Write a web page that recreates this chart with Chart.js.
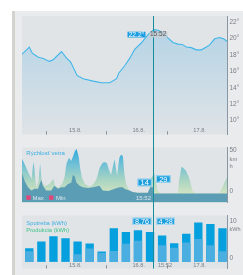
<!DOCTYPE html>
<html><head><meta charset="utf-8">
<script src="https://cdn.jsdelivr.net/npm/chart.js@4/dist/chart.umd.min.js"></script>
<style>
html,body{margin:0;padding:0;background:#fff;width:243px;height:275px;overflow:hidden;position:relative}
#strip{position:absolute;left:12px;top:11px;width:3px;height:264px;background:#d5d3d0}
#panel{position:absolute;left:15px;top:11px;width:228px;height:264px;background:#e9ebed}
canvas{position:absolute;left:0}
#c1{top:0}#c2{top:141px}#c3{top:209px}
</style></head><body>
<div id="strip"></div><div id="panel"></div>
<canvas id="c1" width="243" height="141" style="width:243px;height:141px"></canvas>
<canvas id="c2" width="243" height="68" style="width:243px;height:68px"></canvas>
<canvas id="c3" width="243" height="66" style="width:243px;height:66px"></canvas>
<script>
// ---- data (x in hours from chart start) ----
const xMin = 0, xMax = 81.5;
const cursorHour = 52;
const cursorLabel = "15:52";
const dayStarts = [9.5, 33.3, 57.5];
const dayLabelHours = [21.2, 46.4, 70.6];
const dayLabels = ["15.8.", "16.8.", "17.8."];

const tempHours = [0, 2.9, 4.1, 6.5, 8.5, 10.8, 12.4, 15.7, 17.7, 19.3, 21.9, 24.3, 28.3, 31.6, 34.9, 37.6, 38.5, 40.9, 42.8, 44.8, 47.5, 50.1, 52.4, 54.1, 56.1, 58.0, 60.0, 62.0, 63.7, 65.3, 67.3, 69.3, 71.3, 73.3, 74.6, 76.6, 78.5, 80.1, 81.5];
const tempValues = [18.07, 18.94, 18.2, 17.7, 17.56, 17.2, 17.4, 18.4, 17.6, 17.15, 15.5, 15.1, 14.8, 14.6, 14.6, 15.1, 15.8, 16.7, 17.56, 18.67, 19.46, 20.45, 21.05, 20.97, 20.65, 20.06, 19.5, 19.3, 19.26, 18.94, 18.87, 18.6, 18.6, 18.94, 19.2, 19.94, 20.1, 19.94, 19.65];
const tempTicks = [10, 12, 14, 16, 18, 20, 22];
const tempLabel = "22.2°";

const windMaxHours = [0, 1.1, 2.5, 3.8, 4.5, 5.0, 5.6, 6.5, 7.2, 7.9, 9.1, 11.1, 12.4, 13.2, 14.4, 16.0, 16.9, 17.7, 18.7, 19.5, 20.3, 21.0, 21.7, 22.5, 23.2, 23.8, 25.0, 27.0, 28.5, 29.6, 30.9, 32.1, 33.0, 33.8, 34.5, 35.4, 36.1, 36.8, 37.4, 37.8, 38.7, 39.4, 40.1, 40.7, 41.4, 42.7, 44, 46, 50, 51, 51.5, 52.6, 53.3, 54, 55.3, 62, 62.5, 63.4, 63.9, 65.2, 66.5, 67.8, 69.1, 78.3, 80, 81.5];
const windMax = [43, 36, 26, 18, 39, 30, 8, 14, 37, 14, 9, 12, 18, 9, 7, 12, 20, 37, 44, 40, 46, 52, 55, 46, 30, 20, 12, 8, 12, 18, 32, 38, 39, 37, 30, 23, 33, 42, 30, 22, 44, 48, 46, 24, 11, 4, 1.5, 1, 1, 10, 20, 25, 12, 3, 0, 1, 17, 33, 32, 28, 19, 3, 0, 0, 10, 20];
const windMinHours = [0, 1.1, 2.4, 3.7, 5.0, 6.4, 7.0, 7.7, 8.3, 9.6, 11.6, 12.9, 14.3, 15.6, 16.9, 18.2, 19.6, 20.2, 21.0, 21.6, 22.9, 24.2, 26.2, 28.2, 30.8, 32.1, 34.4, 36.8, 38.7, 40.1, 40.7, 42.7, 44, 46, 50, 51, 52, 52.1, 81.5];
const windMin = [25, 15, 7.6, 3.8, 5.8, 5.8, 11.5, 17, 9.6, 3.8, 3.8, 9.6, 5.8, 7.7, 7.7, 11.5, 13.5, 23, 21, 13.5, 9.6, 7.7, 6.7, 7.7, 9.6, 3.8, 3, 5.8, 7.7, 7.7, 5.8, 3.8, 1.9, 1, 1, 7.7, 8, 0, 0];
const windTicks = [0, 50];
const windLabelMin = "14", windLabelMax = "29";

const barHours = [2.9, 7.7, 12.5, 17.3, 22.1, 26.9, 31.7, 36.5, 41.3, 46.1, 50.9, 55.7, 60.5, 65.3, 70.1, 74.9, 79.7];
const spotreba = [3.66, 5.5, 6.9, 6.4, 5.5, 4.95, 2.76, 9.1, 8.1, 8.6, 8.1, 7.15, 5.0, 7.6, 10.7, 10.3, 9.1];
const produkcia = [2.83, 0, 0, 0, 2.0, 3.56, 2.34, 2.9, 4.9, 5.7, 0, 4.46, 3.8, 5.2, 6.2, 4.46, 2.83];
const barTicks = [0, 10];
const barLabelLeft = "8,76", barLabelRight = "4,28";

// ---- helpers ----
const FONT = '"Liberation Sans", Arial, sans-serif';
Chart.defaults.font.family = FONT;
const pts = (xs, ys) => xs.map((x, i) => ({x: x, y: ys[i]}));
const CURSOR = '#178c9b';

function yScale(min, max, ticks, fmt, offset) {
  return {
    position: 'right', min: min, max: max,
    grid: {display: false, drawTicks: false},
    border: {display: true, color: '#8996a4', width: 1},
    ticks: {color: '#7b8088', font: {size: 6.5, family: FONT}, padding: 2.5, labelOffset: offset, autoSkip: false, callback: fmt},
    afterBuildTicks: s => { s.ticks = ticks.map(v => ({value: v})); },
    afterFit: s => { s.width = 16; }
  };
}
const xScale = () => ({type: 'linear', min: xMin, max: xMax, display: false, offset: false, bounds: 'ticks'});

function box(ctx, text, x0, y0, w, h, fill, stroke, color, size) {
  ctx.fillStyle = fill; ctx.fillRect(x0, y0, w, h);
  if (stroke) { ctx.strokeStyle = stroke; ctx.lineWidth = 1; ctx.strokeRect(x0 + 0.5, y0 + 0.5, w - 1, h - 1); }
  ctx.fillStyle = color; ctx.font = size + 'px ' + FONT; ctx.textAlign = 'center'; ctx.textBaseline = 'middle';
  ctx.fillText(text, x0 + w / 2, y0 + h / 2 + 0.5);
}
const plotBg = {id: 'plotBg', beforeDraw(chart) {
  const {ctx, chartArea: a} = chart; ctx.save(); ctx.fillStyle = '#e1e4e7';
  ctx.fillRect(a.left, a.top, a.right - a.left, a.bottom - a.top); ctx.restore();
}};
function dayAxis(chart, labelDy) {
  const {ctx, chartArea: a, scales: {x}} = chart;
  ctx.save(); ctx.strokeStyle = '#8a95a0'; ctx.lineWidth = 1;
  dayStarts.forEach(h => { const px = Math.round(x.getPixelForValue(h)) + 0.5; ctx.beginPath(); ctx.moveTo(px, a.bottom - 3.5); ctx.lineTo(px, a.bottom); ctx.stroke(); });
  ctx.fillStyle = '#7b8088'; ctx.font = '5.7px ' + FONT; ctx.textAlign = 'center'; ctx.textBaseline = 'middle';
  dayLabels.forEach((t, i) => ctx.fillText(t, x.getPixelForValue(dayLabelHours[i]), a.bottom - labelDy));
  ctx.restore();
}
function cursorLine(chart, y0, y1) {
  const {ctx, scales: {x}} = chart; const cx = Math.round(x.getPixelForValue(cursorHour)) + 0.5;
  ctx.save(); ctx.strokeStyle = CURSOR; ctx.lineWidth = 1; ctx.beginPath(); ctx.moveTo(cx, y0); ctx.lineTo(cx, y1); ctx.stroke(); ctx.restore();
  return cx;
}
const base = (padTop, padBottom) => ({
  responsive: false, animation: false, devicePixelRatio: 1,
  layout: {padding: {left: 22, right: 0, top: padTop, bottom: padBottom}},
  plugins: {legend: {display: false}, tooltip: {enabled: false}}
});

// ---- chart 1: temperature ----
new Chart(document.getElementById('c1'), {
  type: 'line',
  data: {datasets: [{
    data: pts(tempHours, tempValues), borderColor: '#3fb6ea', borderWidth: 1.1, pointRadius: 0, tension: 0, fill: 'start',
    backgroundColor: c => { const a = c.chart.chartArea; if (!a) return 'rgba(0,0,0,0)';
      const g = c.chart.ctx.createLinearGradient(0, a.top, 0, a.bottom);
      g.addColorStop(0, 'rgba(150,200,228,0.65)'); g.addColorStop(1, 'rgba(150,200,228,0.02)'); return g; }
  }]},
  options: Object.assign(base(16, 4), {scales: {x: xScale(), y: yScale(8.31, 22.71, tempTicks, v => v + '°', 0)}}),
  plugins: [plotBg, {id: 'deco1', afterDatasetsDraw(chart) {
    const {ctx, chartArea: a} = chart;
    dayAxis(chart, 4);
    const cx = cursorLine(chart, a.top, chart.height);
    ctx.save();
    ctx.fillStyle = 'rgba(200,206,212,0.85)'; ctx.fillRect(cx - 4, a.top + 15.5, 18, 6);
    ctx.fillStyle = '#51565c'; ctx.font = '6.5px ' + FONT; ctx.textAlign = 'left'; ctx.textBaseline = 'middle';
    ctx.fillText(cursorLabel, cx - 3.5, a.top + 18.7);
    box(ctx, tempLabel, cx - 26, a.top + 15.7, 18, 5.8, '#1e9ee2', null, '#ffffff', 6.7);
    ctx.restore();
  }}]
});

// ---- chart 2: wind ----
new Chart(document.getElementById('c2'), {
  type: 'line',
  data: {datasets: [
    {data: pts(windMinHours, windMin), borderColor: 'rgba(0,0,0,0)', borderWidth: 0, pointRadius: 0, tension: 0, fill: 'start', backgroundColor: '#5b9db5'},
    {data: pts(windMaxHours, windMax), borderColor: 'rgba(0,0,0,0)', borderWidth: 0, pointRadius: 0, tension: 0, fill: 'start',
     backgroundColor: c => { const ch = c.chart; if (!ch.chartArea) return 'rgba(0,0,0,0)'; const y = ch.scales.y;
       const g = ch.ctx.createLinearGradient(0, y.getPixelForValue(56), 0, y.getPixelForValue(0));
       g.addColorStop(0, '#2ea8de'); g.addColorStop(0.35, '#6ebfd6'); g.addColorStop(0.7, '#a8d4c2'); g.addColorStop(1, '#d2e3c2'); return g; }}
  ]},
  options: Object.assign(base(5, 4), {scales: {x: xScale(), y: yScale(-11.2, 56.9, windTicks, v => String(v), -2.6)}}),
  plugins: [plotBg, {id: 'deco2', afterDatasetsDraw(chart) {
    const {ctx, chartArea: a, scales: {y}} = chart;
    const cx = cursorLine(chart, 0, chart.height);
    ctx.save();
    ctx.font = '6px ' + FONT; ctx.textAlign = 'left'; ctx.textBaseline = 'middle';
    ctx.fillStyle = '#39ade3'; ctx.fillText('Rýchlosť vetra', a.left + 4.3, a.top + 6);
    const by = a.bottom - 5;
    ctx.fillStyle = '#e5457a'; ctx.fillRect(a.left + 4.3, by - 2.2, 4.4, 4.4); ctx.fillRect(a.left + 27, by - 2.2, 4.4, 4.4);
    ctx.fillStyle = '#dbe6ec'; ctx.fillText('Max', a.left + 10.5, by + 0.3); ctx.fillText('Min', a.left + 34, by + 0.3);
    ctx.textAlign = 'right'; ctx.fillText(cursorLabel, cx - 2.5, by + 0.3);
    ctx.fillStyle = '#7b8088'; ctx.font = '5.8px ' + FONT; ctx.textAlign = 'left';
    const p50 = y.getPixelForValue(50);
    ctx.fillText('km', a.right + 2.5, p50 + 6); ctx.fillText('h', a.right + 2.5, p50 + 13.8);
    box(ctx, windLabelMin, cx - 16, 37.7, 14.3, 7.6, '#1a9ede', 'rgba(255,255,255,0.55)', '#ffffff', 7.5);
    box(ctx, windLabelMax, cx + 2.5, 34.3, 14.6, 7.4, '#1a9ede', 'rgba(255,255,255,0.55)', '#ffffff', 7.5);
    ctx.restore();
  }}]
});

// ---- chart 3: energy bars ----
new Chart(document.getElementById('c3'), {
  type: 'bar',
  data: {datasets: [
    {label: 'Produkcia (kWh)', data: pts(barHours, produkcia), backgroundColor: '#4aaee0', barThickness: 7.7, grouped: false},
    {label: 'Spotreba (kWh)', data: pts(barHours, spotreba), backgroundColor: '#05a0dd', barThickness: 7.7, grouped: false}
  ]},
  options: Object.assign(base(2, 4), {scales: {x: xScale(), y: yScale(-1.88, 12.76, barTicks, v => String(v), -4)}}),
  plugins: [plotBg, {id: 'deco3', afterDatasetsDraw(chart) {
    const {ctx, chartArea: a, scales: {y}} = chart;
    dayAxis(chart, 2.8);
    const cx = cursorLine(chart, 0, a.bottom);
    ctx.save();
    ctx.font = '5.8px ' + FONT; ctx.textAlign = 'left'; ctx.textBaseline = 'middle';
    ctx.fillStyle = '#3aaee3'; ctx.fillText('Spotreba (kWh)', a.left + 4.3, a.top + 8.3);
    ctx.fillStyle = '#3ec28c'; ctx.fillText('Produkcia (kWh)', a.left + 4.3, a.top + 15);
    ctx.fillStyle = '#7b8088'; ctx.font = '5.5px ' + FONT;
    ctx.fillText('kWh', a.right + 2.5, y.getPixelForValue(10) + 4.4);
    ctx.textAlign = 'center'; ctx.font = '5.7px ' + FONT;
    ctx.fillText(cursorLabel, cx + 11.5, a.bottom - 2.8);
    box(ctx, barLabelLeft, cx - 21, 8.7, 19, 7.3, '#1c9ddc', 'rgba(255,255,255,0.6)', '#ffffff', 7.3);
    box(ctx, barLabelRight, cx + 3, 8.7, 18.4, 7.3, '#1c9ddc', 'rgba(255,255,255,0.6)', '#ffffff', 7.3);
    ctx.restore();
  }}]
});
</script></body></html>
